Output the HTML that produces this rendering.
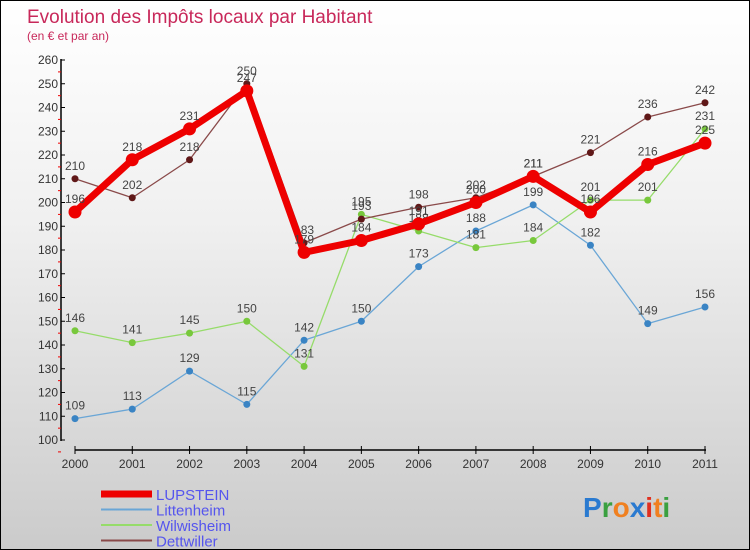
<!DOCTYPE html>
<html><head><meta charset="utf-8"><style>
body{margin:0}
#c{position:relative;width:748px;height:548px;border:1px solid #000;background:linear-gradient(#fff 0%,#f0f0f0 40%,#cbcbcb 100%);font-family:"Liberation Sans",sans-serif;overflow:hidden}
</style></head><body>
<div id="c">
<svg id="s" width="748" height="548"></svg>
</div>
<script>
const years=["2000","2001","2002","2003","2004","2005","2006","2007","2008","2009","2010","2011"];
const yTicks=[100,110,120,130,140,150,160,170,180,190,200,210,220,230,240,250,260];
const lupstein=[196,218,231,247,179,184,191,200,211,196,216,225];
const littenheim=[109,113,129,115,142,150,173,188,199,182,149,156];
const wilwisheim=[146,141,145,150,131,195,188,181,184,201,201,231];
const dettwiller=[210,202,218,250,183,193,198,202,211,221,236,242];
const NS='http://www.w3.org/2000/svg';
const s=document.getElementById('s');
function X(i){return 74+i*(630/11);}
function Y(v){return 439-(v-100)*380/160;}
function el(t,a,txt){const e=document.createElementNS(NS,t);for(const k in a)e.setAttribute(k,a[k]);if(txt!==undefined)e.textContent=txt;s.appendChild(e);return e;}
let t=el('text',{x:26,y:22,fill:'#c8285a','font-size':19},'Evolution des Impôts locaux par Habitant');

t=el('text',{x:26,y:39,fill:'#c8285a','font-size':12},'(en € et par an)');

let a=el('line',{x1:60,y1:58,x2:60,y2:440,stroke:'#000','stroke-width':1.5});

yTicks.forEach(v=>{const y=Y(v);
 let l=el('line',{x1:60,y1:y,x2:64,y2:y,stroke:'#000'});
 let r=el('line',{x1:57,y1:y+11.9,x2:60,y2:y+11.9,stroke:'#e00'});
 let tx=el('text',{x:57,y:y+4,'text-anchor':'end','font-size':12,fill:'#333'},v);
});
a=el('line',{x1:74,y1:449,x2:705,y2:449,stroke:'#000','stroke-width':1.5});

years.forEach((yr,i)=>{const x=X(i);
 let l=el('line',{x1:x,y1:445,x2:x,y2:453,stroke:'#000'});
 let tx=el('text',{x:x,y:467,'text-anchor':'middle','font-size':12,fill:'#333'},yr);
});
function series(d,color,w,r,name,dot){
 let p=el('polyline',{points:d.map((v,i)=>X(i)+','+Y(v)).join(' '),fill:'none',stroke:color,'stroke-width':w,'stroke-linejoin':'round'});
 
 d.forEach((v,i)=>{let c=el('circle',{cx:X(i),cy:Y(v),r:r,fill:dot});
  let tx=el('text',{x:X(i),y:Y(v)-9,'text-anchor':'middle','font-size':12,fill:'#444'},v);});
}
series(littenheim,'#6aa6d6',1.3,3.5,'littenheim','#3a84c4');
series(wilwisheim,'#96dc6a',1.3,3.5,'wilwisheim','#78c83c');
series(dettwiller,'#8a4a4a',1.3,3.5,'dettwiller','#601818');
series(lupstein,'#ee0000',7,6.5,'lupstein','#ee0000');
const leg=[['LUPSTEIN','#ee0000',7],['Littenheim','#6aa6d6',2],['Wilwisheim','#96dc6a',2],['Dettwiller','#8a4a4a',2]];
leg.forEach((g,i)=>{const y=493+i*15.5;
 let l=el('line',{x1:100,y1:y,x2:151,y2:y,stroke:g[1],'stroke-width':g[2]});
 let tx=el('text',{x:155,y:y+6,'font-size':15,fill:'#5555ee'},g[0]);
});
const logo=el('text',{x:582,y:516,'font-size':28,'font-weight':'bold'});

[['P','#2a7ad0'],['r','#3aa040'],['o','#f08020'],['x','#2a7ad0'],['i','#e03020'],['t','#f08020'],['i','#3aa040']].forEach(c=>{const sp=document.createElementNS(NS,'tspan');sp.setAttribute('fill',c[1]);sp.textContent=c[0];logo.appendChild(sp);});
</script>
</body></html>
